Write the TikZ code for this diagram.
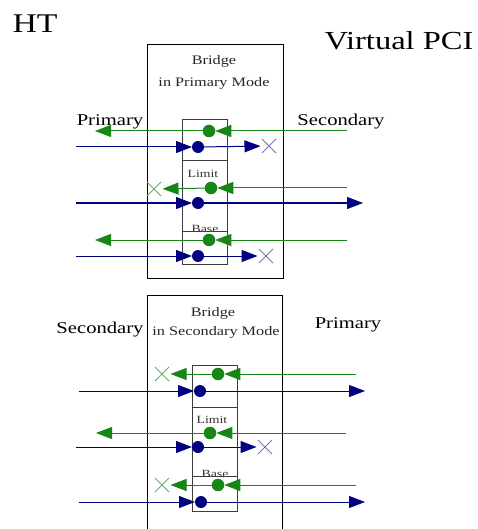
\documentclass[tikz,border=0pt]{standalone}
\usepackage{fontspec}
\setmainfont[FakeStretch=1.25]{Liberation Serif}
\usetikzlibrary{arrows.meta,shapes.misc}
\definecolor{flowgreen}{RGB}{22,134,22}
\definecolor{flownavy}{RGB}{0,0,128}
\definecolor{xgreen}{RGB}{110,168,110}
\definecolor{xnavy}{RGB}{118,118,178}
\definecolor{boxgrey}{RGB}{60,60,60}
\tikzset{
  gline/.style={draw=flowgreen, line width=1pt},
  bline/.style={draw=flownavy, line width=1pt},
  tip/.style={-{Triangle[length=16pt,width=12pt]}},
  tipx/.style={-{Triangle[length=16pt,width=12pt]}, shorten >=1.5pt},
  gdot/.style={circle, fill=flowgreen, inner sep=0pt, outer sep=0pt, minimum size=12.5pt},
  bdot/.style={circle, fill=flownavy, inner sep=0pt, outer sep=0pt, minimum size=12pt},
  gx/.style={cross out, draw=xgreen, line width=0.8pt, inner sep=0pt, outer sep=0pt, minimum size=14pt},
  bx/.style={cross out, draw=xnavy, line width=0.8pt, inner sep=0pt, outer sep=0pt, minimum size=14pt},
  outerbox/.style={draw=black, line width=1pt, inner sep=0pt, anchor=north west},
  innerbox/.style={draw=boxgrey, line width=1pt, inner sep=0pt, anchor=north west},
  divider/.style={draw=boxgrey, line width=1pt},
  bigtitle/.style={anchor=base, inner sep=0pt, font=\fontsize{26}{30}\selectfont},
  side/.style={anchor=base, inner sep=0pt, font=\fontsize{16.5}{19}\selectfont},
  caption/.style={anchor=base, inner sep=0pt, font=\fontsize{13}{15}\selectfont, text=black!85},
  tag/.style={anchor=base, inner sep=0pt, font=\fontsize{11}{13}\selectfont, text=black!80},
}
\begin{document}
\begin{tikzpicture}[x=1pt,y=-1pt]
\useasboundingbox (0,0) rectangle (477,529);
\clip (0,0) rectangle (477,529);

% ---------- headings ----------
\node[bigtitle, font=\fontsize{27}{30}\selectfont] (ht) at (35,33) {HT};
\node[bigtitle] (vpci) at (399,50) {Virtual PCI};

% ---------- bridge in primary mode ----------
\node[outerbox, minimum width=136pt, minimum height=234pt] (outerA) at (147,44) {};
\node[caption] (capA1) at (214,65) {Bridge};
\node[caption] (capA2) at (214,87) {in Primary Mode};
\node[side] (priA) at (110,126) {Primary};
\node[side] (secA) at (341,126) {Secondary};

\node[innerbox, minimum width=45pt, minimum height=145pt] (innerA) at (182,119) {};
\node[tag] (limA) at (203,178) {Limit};
\node[tag] (baseA) at (205,232.5) {Base};
\fill[white] (183,231.5) rectangle (226,235);
\draw[divider] (182,161) -- (227,161);
\draw[divider] (182,231) -- (227,231);

% row 1
\coordinate (a1gs) at (347,131);
\node[gdot] (a1g) at (209,131) {};
\coordinate (a1ge) at (95,131);
\draw[gline, tip] (a1gs) -- (a1g);
\draw[gline, tip] (a1g) -- (a1ge);
\coordinate (a1bs) at (76,147);
\node[bdot] (a1b) at (198,147) {};
\node[bx] (a1x) at (269,146) {};
\draw[bline, tip] (a1bs) -- (a1b);
\draw[bline, tipx] (a1b) -- (a1x);
% row 2
\coordinate (a2gs) at (347,188);
\node[gdot] (a2g) at (211,188) {};
\node[gx] (a2x) at (154,189) {};
\draw[gline, tip] (a2gs) -- (a2g);
\draw[gline, tipx] (a2g) -- (a2x);
\coordinate (a2bs) at (76,203);
\node[bdot] (a2b) at (198,203) {};
\coordinate (a2be) at (363,203);
\draw[bline, tip] (a2bs) -- (a2b);
\draw[bline, tip] (a2b) -- (a2be);
% row 3
\coordinate (a3gs) at (347,240);
\node[gdot] (a3g) at (209,240) {};
\coordinate (a3ge) at (95,240);
\draw[gline, tip] (a3gs) -- (a3g);
\draw[gline, tip] (a3g) -- (a3ge);
\coordinate (a3bs) at (76,256);
\node[bdot] (a3b) at (198,256) {};
\node[bx] (a3x) at (266,256) {};
\draw[bline, tip] (a3bs) -- (a3b);
\draw[bline, tipx] (a3b) -- (a3x);

% ---------- bridge in secondary mode ----------
\node[outerbox, minimum width=135pt, minimum height=250pt] (outerB) at (147,295) {};
\node[caption] (capB1) at (213,316) {Bridge};
\node[caption] (capB2) at (216,335) {in Secondary Mode};
\node[side] (secB) at (100,333) {Secondary};
\node[side] (priB) at (348,328) {Primary};

\node[innerbox, minimum width=45pt, minimum height=146pt] (innerB) at (192,365) {};
\node[tag] (limB) at (212,423) {Limit};
\node[tag] (baseB) at (215,477.5) {Base};
\fill[white] (193,476.5) rectangle (236,480);
\draw[divider] (192,407) -- (237,407);
\draw[divider] (192,476) -- (237,476);

% row 1
\coordinate (b1gs) at (356,374);
\node[gdot] (b1g) at (218,374) {};
\node[gx] (b1x) at (162,374) {};
\draw[gline, tip] (b1gs) -- (b1g);
\draw[gline, tipx] (b1g) -- (b1x);
\coordinate (b1bs) at (79,391);
\node[bdot] (b1b) at (200,391) {};
\coordinate (b1be) at (365,391);
\draw[bline, tip] (b1bs) -- (b1b);
\draw[bline, tip] (b1b) -- (b1be);
% row 2
\coordinate (b2gs) at (346,433);
\node[gdot] (b2g) at (210,433) {};
\coordinate (b2ge) at (96,433);
\draw[gline, tip] (b2gs) -- (b2g);
\draw[gline, tip] (b2g) -- (b2ge);
\coordinate (b2bs) at (76,447);
\node[bdot] (b2b) at (198,447) {};
\node[bx] (b2x) at (265,447) {};
\draw[bline, tip] (b2bs) -- (b2b);
\draw[bline, tipx] (b2b) -- (b2x);
% row 3
\coordinate (b3gs) at (356,485);
\node[gdot] (b3g) at (218,485) {};
\node[gx] (b3x) at (162,485) {};
\draw[gline, tip] (b3gs) -- (b3g);
\draw[gline, tipx] (b3g) -- (b3x);
\coordinate (b3bs) at (79,502);
\node[bdot] (b3b) at (201,502) {};
\coordinate (b3be) at (365,502);
\draw[bline, tip] (b3bs) -- (b3b);
\draw[bline, tip] (b3b) -- (b3be);
\end{tikzpicture}
\end{document}
